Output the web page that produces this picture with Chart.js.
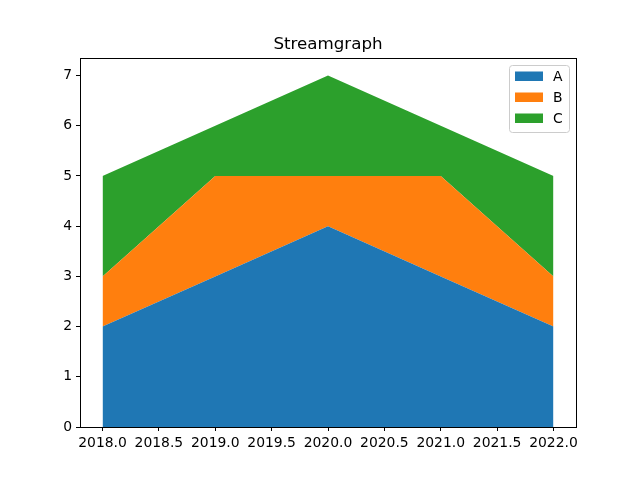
<!DOCTYPE html>
<html>
<head>
<meta charset="utf-8">
<script src="https://cdn.jsdelivr.net/npm/chart.js"></script>
<style>
  html, body { margin: 0; padding: 0; background: #fff; }
  #wrap { width: 640px; height: 480px; }
</style>
</head>
<body>
<div id="wrap"><canvas id="chart" width="640" height="480"></canvas></div>
<script>
const years = [2018, 2019, 2020, 2021, 2022];
const seriesA = [2, 3, 4, 3, 2];
const seriesB = [1, 2, 1, 2, 1];
const seriesC = [2, 1, 2, 1, 2];
const seriesNames = ['A', 'B', 'C'];
const xTicks = [2018, 2018.5, 2019, 2019.5, 2020, 2020.5, 2021, 2021.5, 2022];
const yTicks = [0, 1, 2, 3, 4, 5, 6, 7];
const titleText = 'Streamgraph';

const colors = ['#1f77b4', '#ff7f0e', '#2ca02c'];
const FONT = 'DejaVu Sans';

const toPoints = vals => vals.map((v, i) => ({ x: years[i], y: v }));

// Frame around the plot area (matplotlib spines) + title centred on the axes
const framePlugin = {
    id: 'frame',
    afterDatasetsDraw(chart) {
        const { ctx, chartArea: a } = chart;
        ctx.save();
        ctx.strokeStyle = '#000';
        ctx.lineWidth = 1;
        ctx.strokeRect(Math.round(a.left) + 0.5, Math.round(a.top) + 0.5,
            Math.round(a.right - a.left), Math.round(a.bottom - a.top));
        ctx.font = '16.7px "' + FONT + '"';
        ctx.fillStyle = '#000';
        ctx.textAlign = 'center';
        ctx.textBaseline = 'alphabetic';
        ctx.fillText(titleText, (a.left + a.right) / 2, a.top - 9.5);
        ctx.restore();
    }
};

// Legend in the upper right, drawn like matplotlib's
const legendPlugin = {
    id: 'mplLegend',
    afterDraw(chart) {
        const { ctx, chartArea: a } = chart;
        const w = 60, h = 67;
        const x = a.right - 7 - w, y = a.top + 7;
        ctx.save();
        ctx.beginPath();
        ctx.roundRect(x + 0.5, y + 0.5, w, h, 3);
        ctx.fillStyle = 'rgba(255,255,255,0.8)';
        ctx.fill();
        ctx.strokeStyle = '#cccccc';
        ctx.lineWidth = 1;
        ctx.stroke();
        ctx.font = '13.9px "' + FONT + '"';
        ctx.textBaseline = 'middle';
        seriesNames.forEach((name, i) => {
            const cy = y + 11 + i * 21;
            ctx.fillStyle = colors[i];
            ctx.fillRect(x + 6, cy - 4.5, 28, 9.5);
            ctx.fillStyle = '#000';
            ctx.fillText(name, x + 44, cy + 1);
        });
        ctx.restore();
    }
};

const ctx = document.getElementById('chart').getContext('2d');
new Chart(ctx, {
    type: 'line',
    data: {
        datasets: [
            { label: seriesNames[0], data: toPoints(seriesA), backgroundColor: colors[0], fill: 'origin' },
            { label: seriesNames[1], data: toPoints(seriesB), backgroundColor: colors[1], fill: '-1' },
            { label: seriesNames[2], data: toPoints(seriesC), backgroundColor: colors[2], fill: '-1' }
        ].map(ds => Object.assign(ds, {
            borderWidth: 0,
            borderColor: ds.backgroundColor,
            pointRadius: 0,
            tension: 0
        }))
    },
    options: {
        responsive: false,
        animation: false,
        layout: { padding: { left: 0, right: 64, top: 58, bottom: 0 } },
        plugins: {
            legend: { display: false },
            tooltip: { enabled: false },
            title: { display: false }
        },
        scales: {
            x: {
                type: 'linear',
                min: 2017.8,
                max: 2022.2,
                afterBuildTicks: s => { s.ticks = xTicks.map(v => ({ value: v })); },
                afterFit: s => { s.height = 53; },
                grid: { drawOnChartArea: false, color: '#000', tickLength: 4, tickWidth: 1 },
                border: { color: '#000' },
                ticks: {
                    color: '#000',
                    padding: 4,
                    maxRotation: 0,
                    autoSkip: false,
                    font: { family: FONT, size: 13.9 },
                    callback: v => Number(v).toFixed(1)
                }
            },
            y: {
                stacked: true,
                min: 0,
                max: 7.35,
                afterBuildTicks: s => { s.ticks = yTicks.map(v => ({ value: v })); },
                afterFit: s => { s.width = 80; },
                grid: { drawOnChartArea: false, color: '#000', tickLength: 4, tickWidth: 1 },
                border: { color: '#000' },
                ticks: {
                    color: '#000',
                    padding: 4,
                    autoSkip: false,
                    font: { family: FONT, size: 13.9 },
                    callback: v => String(v)
                }
            }
        }
    },
    plugins: [framePlugin, legendPlugin]
});
</script>
</body>
</html>
